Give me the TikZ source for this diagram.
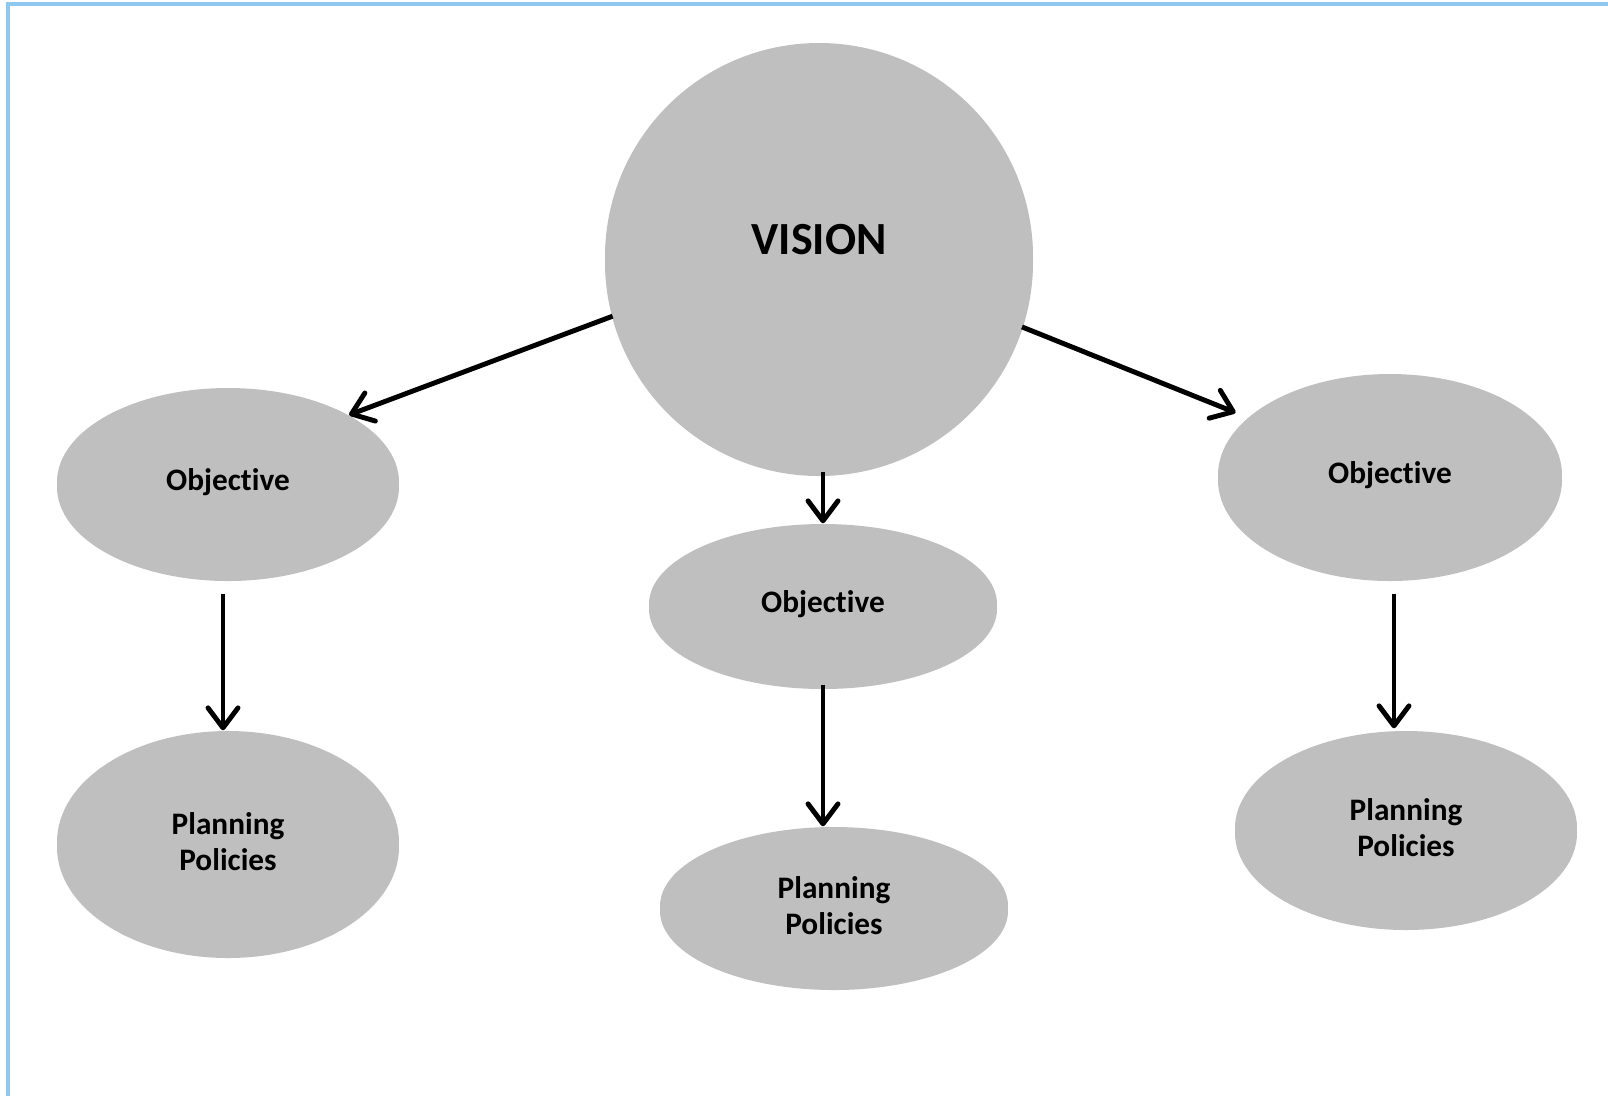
\documentclass[tikz,border=0pt]{standalone}
\usepackage{fontspec}
\setmainfont{Carlito}[Ligatures=NoCommon]
\usetikzlibrary{shapes.geometric,arrows.meta,shadows}

\definecolor{bubblegray}{HTML}{BFBFBF}
\definecolor{frameblue}{HTML}{8EC8F0}

\begin{document}
\begin{tikzpicture}[
  bubble/.style={ellipse, fill=bubblegray, inner sep=0pt, align=center,
    font=\bfseries\fontsize{8.9}{10.2}\selectfont,
    drop shadow={shadow xshift=0pt, shadow yshift=-0.05cm, opacity=0.25, fill=black}},
  link/.style={-{Straight Barb[length=2mm,width=3mm,round]}, line width=1.4pt}
]
% Page size and the blue frame (only top and left edges show)
\useasboundingbox (0,0) rectangle (16.08,-10.96);
\draw[frameblue, line width=1.1pt] (0.08,-10.96) -- (0.08,-0.04) -- (16.08,-0.04);

% Vision circle
\node[circle, fill=bubblegray, inner sep=0pt, minimum size=4.28cm,
  drop shadow={shadow xshift=0pt, shadow yshift=-0.05cm, opacity=0.25, fill=black}]
  (vision) at (8.19,-2.57) {};
\node[font=\bfseries\fontsize{13.1}{15}\selectfont] (visiontxt) at (8.19,-2.40) {VISION};

% Objectives
\node[bubble, minimum width=3.42cm, minimum height=1.88cm] (lobj) at (2.28,-4.82) {Objective};
\node[bubble, minimum width=3.48cm, minimum height=1.60cm] (mobj) at (8.23,-6.04) {Objective};
\node[bubble, minimum width=3.44cm, minimum height=2.02cm] (robj) at (13.90,-4.75) {Objective};

% Planning policies
\node[bubble, minimum width=3.42cm, minimum height=2.22cm] (lplan) at (2.28,-8.42) {Planning\\Policies};
\node[bubble, minimum width=3.48cm, minimum height=1.58cm] (mplan) at (8.34,-9.06) {Planning\\Policies};
\node[bubble, minimum width=3.42cm, minimum height=1.94cm] (rplan) at (14.06,-8.28) {Planning\\Policies};

% Arrows
\draw[link] (vision.196) -- (lobj.29);
\draw[link, shorten >=0.13cm] (vision.341) -- (robj.158);
\draw[link] (vision.south -| mobj.north) -- (mobj.north);
\draw[link] ([xshift=-0.05cm, yshift=-0.17cm]lobj.south) -- ([xshift=-0.05cm]lplan.north);
\draw[link] (mobj.south) -- (mobj.south |- mplan.north);
\draw[link] ([xshift=0.04cm, yshift=-0.17cm]robj.south) -- ([xshift=0.04cm, yshift=0.02cm]robj.south |- rplan.north);
\end{tikzpicture}
\end{document}
